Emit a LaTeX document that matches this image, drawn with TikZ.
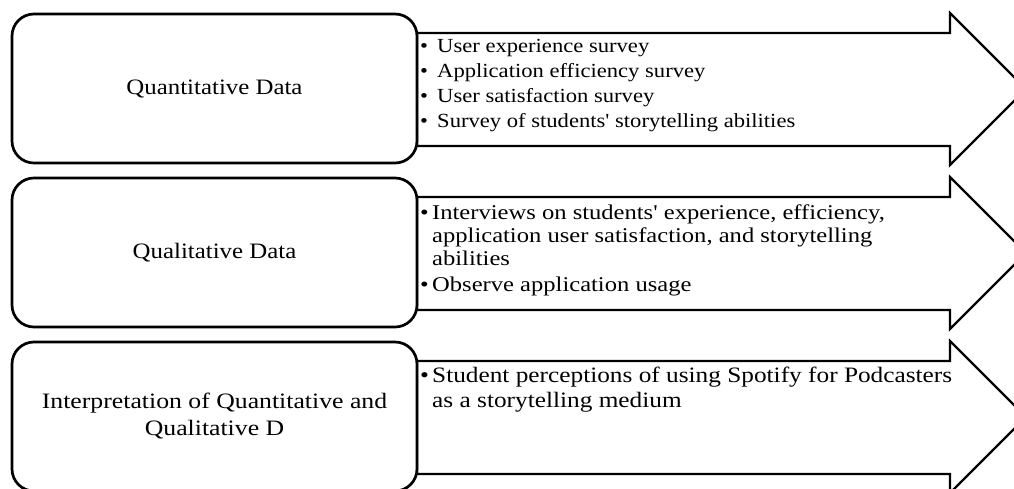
\documentclass[tikz,border=0pt]{standalone}
\usepackage{fontspec}
\setmainfont{Liberation Serif}
\newfontfamily\fontrowone[FakeStretch=1.13]{Liberation Serif}
\newfontfamily\fontrowtwo[FakeStretch=1.17]{Liberation Serif}
\newfontfamily\fontrowthree[FakeStretch=1.15]{Liberation Serif}
\newfontfamily\fontlabel[FakeStretch=1.13]{Liberation Serif}
\newfontfamily\fontlabelnarrow[FakeStretch=1.17]{Liberation Serif}
\begin{document}
\begin{tikzpicture}[x=1pt,y=-1pt,
  box/.style={draw, line width=2.7pt, rounded corners=22pt, fill=white,
    minimum width=405pt, minimum height=149pt, inner sep=0pt,
    font=\fontlabel\fontsize{22}{27}\selectfont, align=center},
  arrowshape/.style={draw, line width=2.2pt, line join=miter, fill=white},
  items/.style={anchor=base west, inner sep=0pt, align=left}]
\useasboundingbox (0,0) rectangle (1014,488);
\clip (0,0) rectangle (1014,488);
% arrows
\draw[arrowshape] (417,33) -- (950,33) -- (950,13) -- (1026,89) -- (950,165) -- (950,146) -- (417,146) -- cycle;
\draw[arrowshape] (417,197) -- (950,197) -- (950,177) -- (1026,253) -- (950,329) -- (950,310) -- (417,310) -- cycle;
\draw[arrowshape] (417,361) -- (950,361) -- (950,341) -- (1026,417) -- (950,493) -- (950,474) -- (417,474) -- cycle;
% boxes
\node[box] (b1) at (214.5,88.5) {Quantitative Data};
\node[box] (b2) at (214.5,252.5) {Qualitative Data};
\node[box, font=\fontlabelnarrow\fontsize{22}{27}\selectfont] (b3) at (214.5,416.5) {Interpretation of Quantitative and\\Qualitative D};
% item texts
\node[items, font=\fontrowone\fontsize{20}{25}\selectfont] (t1) at (420,52)
  {\begin{tabular}[t]{@{}l@{}l@{}}
   \makebox[17pt][l]{\textbullet} & User experience survey\\
   \makebox[17pt][l]{\textbullet} & Application efficiency survey\\
   \makebox[17pt][l]{\textbullet} & User satisfaction survey\\
   \makebox[17pt][l]{\textbullet} & Survey of students' storytelling abilities
   \end{tabular}};
\node[items, font=\fontrowtwo\fontsize{21}{23}\selectfont] (t2) at (420,219)
  {\begin{tabular}[t]{@{}l@{}l@{}}
   \makebox[12pt][l]{\textbullet} & Interviews on students' experience, efficiency,\\
   & application user satisfaction, and storytelling\\
   & abilities\\[3pt]
   \makebox[12pt][l]{\textbullet} & Observe application usage
   \end{tabular}};
\node[items, font=\fontrowthree\fontsize{22}{25}\selectfont] (t3) at (420,382)
  {\begin{tabular}[t]{@{}l@{}l@{}}
   \makebox[12pt][l]{\textbullet} & Student perceptions of using Spotify for Podcasters\\
   & as a storytelling medium
   \end{tabular}};
\end{tikzpicture}
\end{document}
